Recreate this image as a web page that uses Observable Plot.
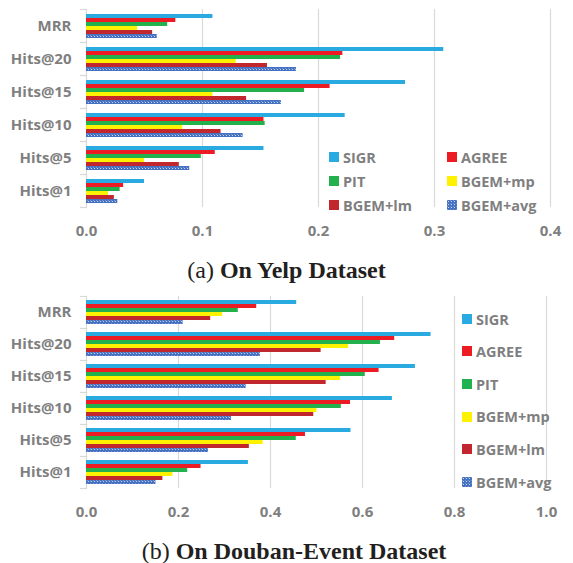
<!DOCTYPE html>
<html>
<head>
<meta charset="utf-8">
<script src="https://cdn.jsdelivr.net/npm/d3@7"></script>
<script src="https://cdn.jsdelivr.net/npm/@observablehq/plot@0.6"></script>
<style>
  html, body { margin: 0; padding: 0; background: #fff; }
  body { width: 573px; height: 563px; position: relative; overflow: hidden; }
  .chart { position: absolute; left: 0; }
  .title { position: absolute; left: 0; width: 573px; text-align: center; font-family: "Liberation Serif", "Times New Roman", serif; font-size: 24px; line-height: 28px; color: #231f20; }
  .title b { font-weight: bold; }
  .leg { position: absolute; display: flex; align-items: center; height: 20px; font-family: "Open Sans", sans-serif; font-weight: 700; font-size: 14.5px; color: #7f7f7f; white-space: nowrap; }
  .sw { display: inline-block; width: 10px; height: 10px; margin-right: 4px; }
</style>
</head>
<body>
<svg width="0" height="0" style="position:absolute">
  <defs>
    <pattern id="avgPat" width="3" height="3" patternUnits="userSpaceOnUse">
      <rect width="3" height="3" fill="#4571c2"></rect>
      <rect x="1" y="1" width="1" height="1" fill="#ffffff" opacity="0.7"></rect>
      <rect x="0" y="0" width="1" height="1" fill="#9cb4e0" opacity="0.6"></rect>
    </pattern>
  </defs>
</svg>
<div id="top" class="chart" style="top:0"></div>
<div class="title" style="top:256px">(a) <b>On Yelp Dataset</b></div>
<div id="bottom" class="chart" style="top:290px"></div>
<div class="title" style="top:537px; padding-left:15px; width:558px">(b) <b>On Douban-Event Dataset</b></div>
<script>
const categories = ["MRR", "Hits@20", "Hits@15", "Hits@10", "Hits@5", "Hits@1"];
const methods = ["SIGR", "AGREE", "PIT", "BGEM+mp", "BGEM+lm", "BGEM+avg"];
const methodColors = ["#29abe2", "#ed1c24", "#22b14c", "#fff200", "#c1272d", "url(#avgPat)"];

// Yelp values (order of categories)
const yelpSIGR = [0.109, 0.308, 0.275, 0.223, 0.153, 0.050];
const yelpAGREE = [0.077, 0.221, 0.210, 0.153, 0.111, 0.032];
const yelpPIT = [0.070, 0.219, 0.188, 0.154, 0.099, 0.029];
const yelpMP = [0.044, 0.129, 0.109, 0.083, 0.050, 0.019];
const yelpLM = [0.057, 0.156, 0.138, 0.116, 0.080, 0.024];
const yelpAVG = [0.061, 0.181, 0.168, 0.135, 0.089, 0.027];

// Douban-Event values
const doubanSIGR = [0.457, 0.749, 0.715, 0.665, 0.575, 0.352];
const doubanAGREE = [0.370, 0.670, 0.636, 0.574, 0.476, 0.249];
const doubanPIT = [0.330, 0.639, 0.606, 0.554, 0.456, 0.220];
const doubanMP = [0.296, 0.570, 0.552, 0.501, 0.384, 0.188];
const doubanLM = [0.270, 0.510, 0.521, 0.494, 0.354, 0.166];
const doubanAVG = [0.210, 0.378, 0.347, 0.315, 0.265, 0.151];

const yelpTicks = [0, 0.1, 0.2, 0.3, 0.4];
const doubanTicks = [0, 0.2, 0.4, 0.6, 0.8, 1.0];

function table(series) {
  const rows = [];
  categories.forEach((c, i) => {
    methods.forEach((m, j) => rows.push({category: c, method: m, value: series[j][i]}));
  });
  return rows;
}

const yelpData = table([yelpSIGR, yelpAGREE, yelpPIT, yelpMP, yelpLM, yelpAVG]);
const doubanData = table([doubanSIGR, doubanAGREE, doubanPIT, doubanMP, doubanLM, doubanAVG]);

const gray = "#7f7f7f";
const gridColor = "#d9d9d9";

function chart(data, ticks, opts) {
  const plotWidth = 573 - 86 - opts.marginRight;
  return Plot.plot({
    width: 573,
    height: opts.height,
    marginLeft: 86,
    marginRight: opts.marginRight,
    marginTop: opts.marginTop,
    marginBottom: opts.marginBottom,
    style: {fontFamily: "'Open Sans', sans-serif", fontSize: "15px", fontWeight: "700", color: gray, background: "transparent", overflow: "visible"},
    x: {domain: [ticks[0], ticks[ticks.length - 1]]},
    fy: {domain: categories, padding: 0},
    y: {domain: methods, paddingInner: 0.08, paddingOuter: opts.outer, axis: null},
    color: {domain: methods, range: methodColors},
    marks: [
      Plot.gridX(ticks.slice(1), {stroke: gridColor, strokeOpacity: 1, strokeWidth: 1.2}),
      Plot.ruleX([0], {stroke: gridColor, strokeWidth: 1.2}),
      Plot.frame({anchor: "top", stroke: gridColor, strokeWidth: 1.2, insetLeft: -6, insetRight: plotWidth}),
      Plot.frame({anchor: "bottom", stroke: gridColor, strokeWidth: 1.2, insetLeft: -6, insetRight: plotWidth}),
      Plot.barX(data, {x: "value", y: "method", fy: "category", fill: "method"}),
      Plot.axisX({ticks, tickFormat: d3.format(".1f"), tickSize: 0, tickPadding: opts.tickPad, label: null, fill: gray}),
      Plot.axisFy({anchor: "left", tickSize: 0, tickPadding: 15, label: null, fill: gray})
    ]
  });
}

document.getElementById("top").append(chart(yelpData, yelpTicks, {height: 245, marginRight: 23, marginTop: 7, marginBottom: 36, tickPad: 18, outer: 1.0}));
document.getElementById("bottom").append(chart(doubanData, doubanTicks, {height: 245, marginRight: 27, marginTop: 3, marginBottom: 45, tickPad: 18, outer: 1.0}));

function swatch(color) {
  const s = document.createElementNS("http://www.w3.org/2000/svg", "svg");
  s.setAttribute("width", 10); s.setAttribute("height", 10);
  s.setAttribute("class", "sw");
  const r = document.createElementNS("http://www.w3.org/2000/svg", "rect");
  r.setAttribute("width", 10); r.setAttribute("height", 10); r.setAttribute("fill", color);
  s.append(r);
  return s;
}
function legendItem(i, left, centerY) {
  const d = document.createElement("div");
  d.className = "leg";
  d.style.left = left + "px";
  d.style.top = (centerY - 10) + "px";
  d.append(swatch(methodColors[i]));
  d.append(document.createTextNode(methods[i]));
  document.body.append(d);
}
// top legend: 2 columns x 3 rows
const topCols = [329, 447];
const topRows = [157, 181, 205];
methods.forEach((m, i) => legendItem(i, topCols[i % 2], topRows[Math.floor(i / 2)]));
// bottom legend: single column
const botRows = [319, 351, 384, 416.5, 449, 482];
methods.forEach((m, i) => legendItem(i, 462, botRows[i]));
</script>
</body>
</html>
